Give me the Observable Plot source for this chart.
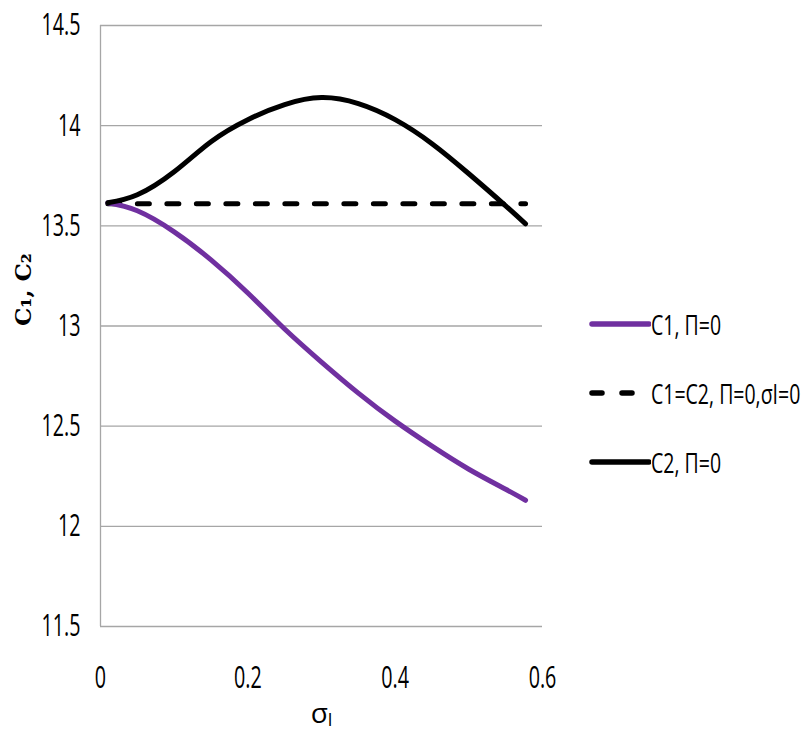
<!DOCTYPE html>
<html>
<head>
<meta charset="utf-8">
<script src="https://cdn.jsdelivr.net/npm/d3@7"></script>
<script src="https://cdn.jsdelivr.net/npm/@observablehq/plot@0.6"></script>
<style>
  html, body { margin: 0; padding: 0; background: #fff; }
  #wrap { position: relative; width: 804px; height: 753px; font-family: "Open Sans", sans-serif; }
  #legend { position: absolute; left: 588px; top: 289px; }
  .row { display: flex; align-items: center; height: 69px; font-size: 26px; color: #000; white-space: nowrap; }
  .row svg { display: block; flex: none; }
  .row span { display: inline-block; transform: scale(0.75, 1.08); transform-origin: left center; }
</style>
</head>
<body>
<div id="wrap"><div id="legend"></div></div>
<script>
// ---- data ----
const xTicks = [0, 0.2, 0.4, 0.6];
const yTicks = [11.5, 12, 12.5, 13, 13.5, 14, 14.5];

// C1, Π=0 (purple)
const c1X = [0.01, 0.05, 0.1, 0.15, 0.2, 0.25, 0.3, 0.35, 0.4, 0.45, 0.5, 0.55, 0.577];
const c1Y = [13.615, 13.575, 13.47, 13.33, 13.165, 12.985, 12.82, 12.665, 12.525, 12.4, 12.285, 12.185, 12.13];

// C2, Π=0 (black solid)
const c2X = [0.01, 0.05, 0.1, 0.15, 0.2, 0.25, 0.3, 0.35, 0.4, 0.45, 0.5, 0.55, 0.577];
const c2Y = [13.615, 13.655, 13.77, 13.92, 14.03, 14.105, 14.14, 14.11, 14.03, 13.91, 13.76, 13.6, 13.51];

// C1=C2, Π=0, σl=0 (black dashed)
const eqX = [0.01, 0.577];
const eqY = [13.61, 13.61];

const legendLabels = ["C1, Π=0", "C1=C2, Π=0,σI=0", "C2, Π=0"];
const legendColors = ["#7030A0", "#000000", "#000000"];
const legendDash = [null, "12 17.5", null];

const purple = "#7030A0";
const gridColor = "#a6a6a6";

const c1 = c1X.map((x, i) => ({x, y: c1Y[i]}));
const c2 = c2X.map((x, i) => ({x, y: c2Y[i]}));
const eq = eqX.map((x, i) => ({x, y: eqY[i]}));

const chart = Plot.plot({
  width: 804,
  height: 753,
  marginLeft: 100,
  marginRight: 262,
  marginTop: 25,
  marginBottom: 127,
  style: { fontFamily: "'Open Sans', sans-serif", color: "#000", background: "#fff" },
  x: { domain: [0, 0.6] },
  y: { domain: [11.5, 14.5] },
  marks: [
    Plot.gridY(yTicks, { stroke: gridColor, strokeOpacity: 1, strokeWidth: 1.3 }),
    Plot.ruleX([0], { stroke: gridColor, strokeWidth: 1.3 }),
    Plot.axisY(yTicks, { tickSize: 0, tickPadding: 20, fontSize: 27, label: null, tickFormat: d => String(d) }),
    Plot.axisX(xTicks, { tickSize: 0, tickPadding: 40, fontSize: 27, label: null, tickFormat: d => String(d) }),
    Plot.line(eq, { x: "x", y: "y", stroke: "#000", strokeWidth: 5, strokeDasharray: "12 17.5", strokeLinecap: "round" }),
    Plot.line(c1, { x: "x", y: "y", stroke: purple, strokeWidth: 5, curve: "natural", strokeLinecap: "round" }),
    Plot.line(c2, { x: "x", y: "y", stroke: "#000", strokeWidth: 5, curve: "natural", strokeLinecap: "round" }),
    Plot.text(["C₁, C₂"], { frameAnchor: "left", dx: -77, dy: 0, rotate: -90, fontWeight: "bold", fontSize: 23, fontFamily: "'DejaVu Serif', serif" }),
    Plot.text(["σₗ"], { frameAnchor: "bottom", dx: 0, dy: 96, fontSize: 28, fontFamily: "'Open Sans', sans-serif" })
  ]
});
const wrap = document.getElementById("wrap");
wrap.insertBefore(chart, wrap.firstChild);

// condense tick labels to match the narrow reference lettering
chart.querySelectorAll('g[aria-label="y-axis tick label"] text, g[aria-label="x-axis tick label"] text').forEach(t => {
  t.setAttribute("transform", (t.getAttribute("transform") || "") + " scale(0.73,1.14)");
});

// legend
const legend = document.getElementById("legend");
const ns = "http://www.w3.org/2000/svg";
legendLabels.forEach((lab, i) => {
  const row = document.createElement("div");
  row.className = "row";
  const s = document.createElementNS(ns, "svg");
  s.setAttribute("width", 63); s.setAttribute("height", 12);
  const l = document.createElementNS(ns, "line");
  l.setAttribute("x1", 4);
  l.setAttribute("x2", legendDash[i] ? 47 : 61);
  l.setAttribute("y1", 6); l.setAttribute("y2", 6);
  l.setAttribute("stroke", legendColors[i]);
  l.setAttribute("stroke-width", 5.5);
  l.setAttribute("stroke-linecap", "round");
  if (legendDash[i]) l.setAttribute("stroke-dasharray", "10 20");
  s.appendChild(l);
  row.appendChild(s);
  const t = document.createElement("span");
  t.textContent = lab;
  row.appendChild(t);
  legend.appendChild(row);
});
</script>
</body>
</html>
